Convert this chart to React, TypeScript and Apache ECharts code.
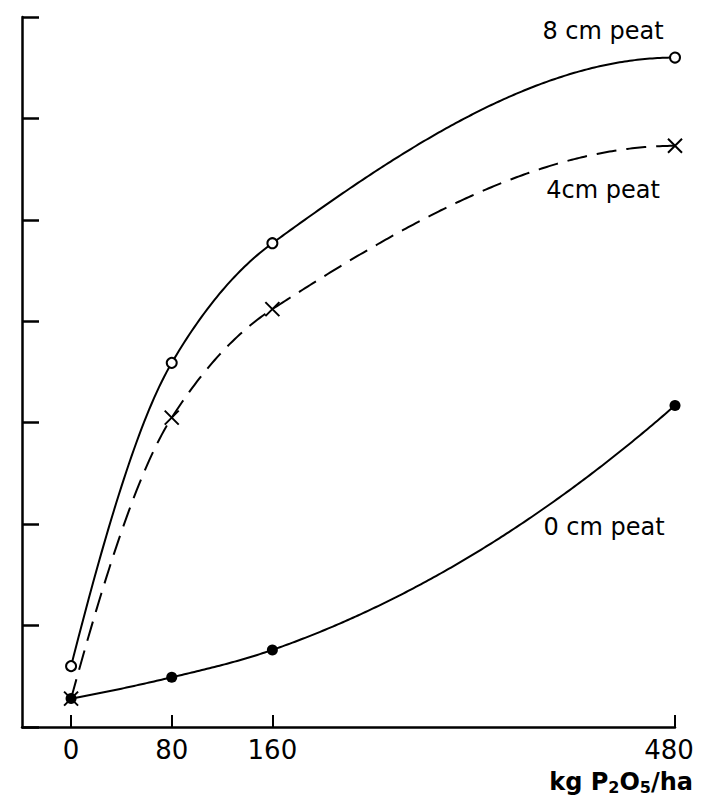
import React, { useEffect, useRef } from "react";
import * as echarts from "echarts";

const xTicks = [0, 80, 160, 480];
const xTickLabels = ["0", "80", "160", "480"];
const seriesNames = ["8 cm peat", "4cm peat", "0 cm peat"];
const peat8 = [0.6, 3.59, 4.77, 6.6];
const peat4 = [0.28, 3.05, 4.12, 5.73];
const peat0 = [0.28, 0.49, 0.76, 3.17];

const FONT = "'DejaVu Sans', sans-serif";

// monotone cubic (PCHIP) interpolant used only to render a smooth curve through the data points
function pchip(xs: number[], ys: number[]) {
  const n = xs.length;
  const h: number[] = [];
  const d: number[] = [];
  for (let i = 0; i < n - 1; i++) {
    h.push(xs[i + 1] - xs[i]);
    d.push((ys[i + 1] - ys[i]) / h[i]);
  }
  const m: number[] = new Array(n).fill(0);
  for (let k = 1; k < n - 1; k++) {
    if (d[k - 1] * d[k] <= 0) m[k] = 0;
    else {
      const w1 = 2 * h[k] + h[k - 1];
      const w2 = h[k] + 2 * h[k - 1];
      m[k] = (w1 + w2) / (w1 / d[k - 1] + w2 / d[k]);
    }
  }
  const endSlope = (h0: number, h1: number, d0: number, d1: number) => {
    let s = ((2 * h0 + h1) * d0 - h0 * d1) / (h0 + h1);
    if (Math.sign(s) !== Math.sign(d0)) s = 0;
    else if (Math.sign(d0) !== Math.sign(d1) && Math.abs(s) > Math.abs(3 * d0)) s = 3 * d0;
    return s;
  };
  m[0] = endSlope(h[0], h[1], d[0], d[1]);
  m[n - 1] = endSlope(h[n - 2], h[n - 3], d[n - 2], d[n - 3]);
  return (x: number) => {
    let i = 0;
    while (i < n - 2 && x > xs[i + 1]) i++;
    const t = (x - xs[i]) / h[i];
    const t2 = t * t;
    const t3 = t2 * t;
    return (
      (2 * t3 - 3 * t2 + 1) * ys[i] +
      (t3 - 2 * t2 + t) * h[i] * m[i] +
      (-2 * t3 + 3 * t2) * ys[i + 1] +
      (t3 - t2) * h[i] * m[i + 1]
    );
  };
}

export default function App() {
  const ref = useRef<HTMLDivElement>(null);
  useEffect(() => {
    if (!ref.current) return;
    const chart = echarts.init(ref.current, null, { renderer: "svg" });
    const pts = (ys: number[]) => xTicks.map((x, i) => [x, ys[i]]);
    const curve = (name: string, ys: number[], dash: number[] | null) => {
      const f = pchip(xTicks, ys);
      return {
        name: name + " curve",
        type: "custom",
        data: pts(ys),
        encode: { x: 0, y: 1 },
        z: 2,
        renderItem: (params: any, api: any) => {
          if (params.dataIndex !== 0) return null;
          const x0 = xTicks[0];
          const x1 = xTicks[xTicks.length - 1];
          const N = 240;
          const points: number[][] = [];
          for (let s = 0; s <= N; s++) {
            const x = x0 + ((x1 - x0) * s) / N;
            points.push(api.coord([x, f(x)]));
          }
          return {
            type: "polyline",
            shape: { points },
            style: { stroke: "#000", lineWidth: 2, fill: null, lineDash: dash || undefined },
          };
        },
      };
    };
    chart.setOption({
      animation: false,
      backgroundColor: "#fff",
      grid: { left: 22, right: 32, top: 17, bottom: 74, outerBoundsMode: "none", containLabel: false },
      xAxis: {
        type: "value",
        min: -39,
        max: 480,
        axisLine: { show: true, onZero: false, lineStyle: { color: "#000", width: 2.5 } },
        axisTick: { show: true, inside: true, length: 12, customValues: xTicks, lineStyle: { color: "#000", width: 2 } },
        axisLabel: {
          customValues: xTicks,
          margin: 10,
          color: "#000",
          fontSize: 26,
          fontFamily: FONT,
          formatter: (v: number) => {
            const t = xTickLabels[xTicks.indexOf(v)] ?? "";
            return v === 480 ? `{r|${t}}` : t;
          },
          rich: { r: { fontSize: 26, fontFamily: FONT, color: "#000", padding: [0, 12, 0, 0] } },
        },
        splitLine: { show: false },
      },
      yAxis: {
        type: "value",
        min: 0,
        max: 7,
        interval: 1,
        axisLine: { show: true, onZero: false, lineStyle: { color: "#000", width: 2.5 } },
        axisTick: { show: true, inside: true, length: 17, lineStyle: { color: "#000", width: 2.5 } },
        axisLabel: { show: false },
        splitLine: { show: false },
      },
      series: [
        curve(seriesNames[0], peat8, null),
        curve(seriesNames[1], peat4, [20, 10]),
        curve(seriesNames[2], peat0, null),
        {
          name: seriesNames[0],
          type: "scatter",
          data: pts(peat8),
          symbol: "circle",
          symbolSize: 10,
          itemStyle: { color: "#fff", borderColor: "#000", borderWidth: 2, opacity: 1 },
          z: 3,
        },
        {
          name: seriesNames[1],
          type: "scatter",
          data: pts(peat4),
          symbol: "path://M0,0L10,10M10,0L0,10",
          symbolSize: 14,
          itemStyle: { color: "none", borderColor: "#000", borderWidth: 2, opacity: 1 },
          z: 4,
        },
        {
          name: seriesNames[2],
          type: "scatter",
          data: pts(peat0),
          symbol: "circle",
          symbolSize: 11,
          itemStyle: { color: "#000", borderColor: "#000", borderWidth: 0, opacity: 1 },
          z: 3,
        },
      ],
      graphic: [
        { type: "text", x: 603, y: 31, style: { text: seriesNames[0], font: `24px ${FONT}`, fill: "#000", align: "center", verticalAlign: "middle" } },
        { type: "text", x: 603, y: 190, style: { text: seriesNames[1], font: `24px ${FONT}`, fill: "#000", align: "center", verticalAlign: "middle" } },
        { type: "text", x: 604, y: 527, style: { text: seriesNames[2], font: `24px ${FONT}`, fill: "#000", align: "center", verticalAlign: "middle" } },
        {
          type: "text",
          right: 14,
          top: 770,
          style: {
            text: "{n|kg P}{s|2}{n|O}{s|5}{n|/ha}",
            rich: {
              n: { fontSize: 24, fontFamily: FONT, fill: "#000", fontWeight: "bold" },
              s: { fontSize: 16, fontFamily: FONT, fill: "#000", fontWeight: "bold", padding: [10, 0, 0, 0] },
            },
          },
        },
      ],
    });
    return () => chart.dispose();
  }, []);
  return <div ref={ref} style={{ position: "absolute", left: 0, top: 0, width: 707, height: 801 }} />;
}
